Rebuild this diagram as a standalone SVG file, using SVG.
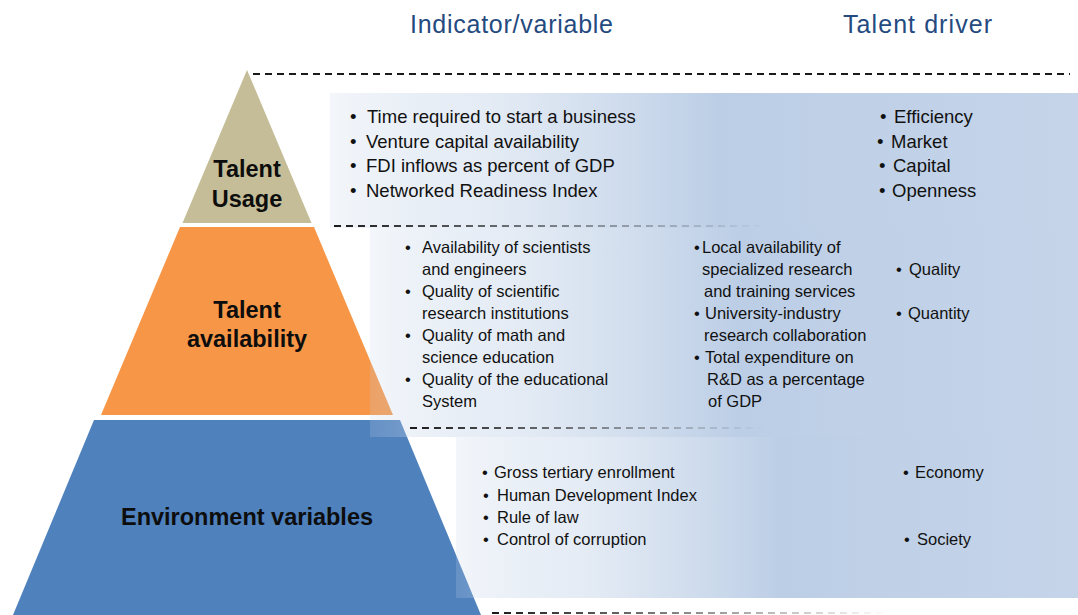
<svg xmlns="http://www.w3.org/2000/svg" width="1078" height="615" viewBox="0 0 1078 615">
  <defs>
    <linearGradient id="panelGrad" x1="0" y1="0" x2="1" y2="0">
      <stop offset="0" stop-color="#C2D2E8" stop-opacity="0.2"/>
      <stop offset="0.2" stop-color="#D3DFEE" stop-opacity="0.6"/>
      <stop offset="0.52" stop-color="#BCCEE6" stop-opacity="1"/>
      <stop offset="1" stop-color="#C5D4E9" stop-opacity="1"/>
    </linearGradient>
    <linearGradient id="fade2" gradientUnits="userSpaceOnUse" x1="334" y1="0" x2="770" y2="0">
      <stop offset="0" stop-color="#1a1a1a" stop-opacity="1"/>
      <stop offset="1" stop-color="#1a1a1a" stop-opacity="0"/>
    </linearGradient>
    <linearGradient id="fade3" gradientUnits="userSpaceOnUse" x1="410" y1="0" x2="765" y2="0">
      <stop offset="0" stop-color="#1a1a1a" stop-opacity="1"/>
      <stop offset="1" stop-color="#1a1a1a" stop-opacity="0"/>
    </linearGradient>
    <linearGradient id="fade4" gradientUnits="userSpaceOnUse" x1="492" y1="0" x2="890" y2="0">
      <stop offset="0" stop-color="#1a1a1a" stop-opacity="1"/>
      <stop offset="1" stop-color="#1a1a1a" stop-opacity="0"/>
    </linearGradient>
  </defs>
  <style>
    .hdr { font-family: "Liberation Sans", Arial, sans-serif; font-size: 25px; fill: #244A80; }
    .lvl { font-family: "Liberation Sans", Arial, sans-serif; font-size: 23.5px; font-weight: bold; fill: #0d0d0d; text-anchor: middle; }
    .t1 { font-family: "Liberation Sans", Arial, sans-serif; font-size: 18.5px; fill: #111; }
    .t2 { font-family: "Liberation Sans", Arial, sans-serif; font-size: 16.5px; fill: #111; }
    .t3 { font-family: "Liberation Sans", Arial, sans-serif; font-size: 16.5px; fill: #111; }
    .panel { fill: url(#panelGrad); }
    .dash { fill: none; stroke-width: 1.8; stroke-dasharray: 7 5; }
  </style>

  <rect width="1078" height="615" fill="#ffffff"/>

  <!-- Headers -->
  <text class="hdr" x="410" y="33" textLength="203">Indicator/variable</text>
  <text class="hdr" x="843" y="33" textLength="149">Talent driver</text>

  <!-- Pyramid levels -->
  <g id="level-usage">
    <polygon points="247,70 311.5,223 182.5,223" fill="#C4BD97"/>
    <text class="lvl" x="247" y="177">Talent</text>
    <text class="lvl" x="247" y="207">Usage</text>
  </g>
  <g id="level-availability">
    <polygon points="180,227 314,227 393,415 101,415" fill="#F79646"/>
    <text class="lvl" x="247" y="318">Talent</text>
    <text class="lvl" x="247" y="347">availability</text>
  </g>
  <g id="level-environment">
    <polygon points="94,420 400,420 481,615 13,615" fill="#4F81BD"/>
    <text class="lvl" x="247" y="525">Environment variables</text>
  </g>

  <!-- Panels -->
  <g id="panel-usage">
    <rect class="panel" x="330" y="93" width="748" height="135"/>
    <text class="t1" x="350" y="123">•</text><text class="t1" x="367" y="123">Time required to start a business</text>
    <text class="t1" x="350" y="148">•</text><text class="t1" x="366" y="148">Venture capital availability</text>
    <text class="t1" x="350" y="172">•</text><text class="t1" x="366" y="172">FDI inflows as percent of GDP</text>
    <text class="t1" x="350" y="197">•</text><text class="t1" x="366" y="197">Networked Readiness Index</text>
    <text class="t1" x="880" y="123">•</text><text class="t1" x="894" y="123">Efficiency</text>
    <text class="t1" x="877" y="148">•</text><text class="t1" x="891" y="148">Market</text>
    <text class="t1" x="879" y="172">•</text><text class="t1" x="893" y="172">Capital</text>
    <text class="t1" x="879" y="197">•</text><text class="t1" x="892" y="197">Openness</text>
  </g>

  <g id="panel-availability">
    <rect class="panel" x="370" y="228" width="708" height="209"/>
    <text class="t2" x="405" y="253">•</text><text class="t2" x="422" y="253">Availability of scientists</text>
    <text class="t2" x="422" y="275">and engineers</text>
    <text class="t2" x="405" y="297">•</text><text class="t2" x="422" y="297">Quality of scientific</text>
    <text class="t2" x="422" y="319">research institutions</text>
    <text class="t2" x="405" y="341">•</text><text class="t2" x="422" y="341">Quality of math and</text>
    <text class="t2" x="422" y="363">science education</text>
    <text class="t2" x="405" y="385">•</text><text class="t2" x="422" y="385">Quality of the educational</text>
    <text class="t2" x="422" y="407">System</text>

    <text class="t2" x="694" y="253">•</text><text class="t2" x="702" y="253">Local availability of</text>
    <text class="t2" x="702" y="275">specialized research</text>
    <text class="t2" x="704" y="297">and training services</text>
    <text class="t2" x="694" y="319">•</text><text class="t2" x="705" y="319">University-industry</text>
    <text class="t2" x="704" y="341">research collaboration</text>
    <text class="t2" x="694" y="363">•</text><text class="t2" x="705" y="363">Total expenditure on</text>
    <text class="t2" x="707" y="385">R&amp;D as a percentage</text>
    <text class="t2" x="708" y="407">of GDP</text>

    <text class="t2" x="896" y="275">•</text><text class="t2" x="909" y="275">Quality</text>
    <text class="t2" x="896" y="319">•</text><text class="t2" x="908" y="319">Quantity</text>
  </g>

  <g id="panel-environment">
    <rect class="panel" x="456" y="437" width="622" height="161"/>
    <text class="t3" x="482" y="478">•</text><text class="t3" x="494" y="478">Gross tertiary enrollment</text>
    <text class="t3" x="483" y="501">•</text><text class="t3" x="497" y="501">Human Development Index</text>
    <text class="t3" x="483" y="523">•</text><text class="t3" x="497" y="523">Rule of law</text>
    <text class="t3" x="483" y="545">•</text><text class="t3" x="497" y="545">Control of corruption</text>
    <text class="t3" x="903" y="478">•</text><text class="t3" x="915" y="478">Economy</text>
    <text class="t3" x="904" y="545">•</text><text class="t3" x="917" y="545">Society</text>
  </g>

  <!-- Separators -->
  <g id="connectors">
    <line class="dash" x1="253" y1="74" x2="1070" y2="74" stroke="#1a1a1a"/>
    <line class="dash" x1="334" y1="226" x2="770" y2="226" stroke="url(#fade2)"/>
    <line class="dash" x1="410" y1="428" x2="765" y2="428" stroke="url(#fade3)"/>
    <line class="dash" x1="492" y1="613" x2="890" y2="613" stroke="url(#fade4)"/>
  </g>
</svg>
